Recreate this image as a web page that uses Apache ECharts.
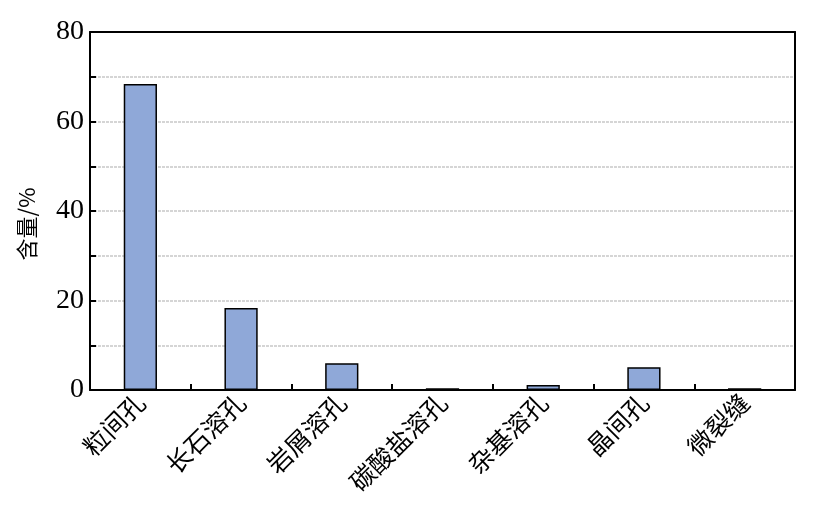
<!DOCTYPE html>
<html>
<head>
<meta charset="utf-8">
<script src="https://cdn.jsdelivr.net/npm/echarts@6/dist/echarts.min.js"></script>
<style>
  html, body { margin: 0; padding: 0; background: #fff; }
  #chart { width: 827px; height: 529px; }
</style>
</head>
<body>
<div id="chart"></div>
<script>
// 孔隙类型
const categories = ['粒间孔', '长石溶孔', '岩屑溶孔', '碳酸盐溶孔', '杂基溶孔', '晶间孔', '微裂缝']
// 含量 (%)
const values = [68.4, 18.3, 6.0, 0.4, 1.1, 5.1, 0.4]
const yTicks = [0, 20, 40, 60, 80]

const serif = '"Liberation Serif", "DejaVu Serif", "Noto Sans CJK SC", serif'
const cjk = '"Noto Sans CJK SC", serif'

const chart = echarts.init(document.getElementById('chart'))
chart.setOption({
  animation: false,
  grid: { left: 90, right: 32, top: 32, bottom: 139 },
  xAxis: [
    {
      type: 'category',
      data: categories,
      axisLine: { lineStyle: { color: '#000', width: 2 } },
      axisTick: { show: true, inside: true, length: 6, lineStyle: { color: '#000', width: 2 } },
      axisLabel: {
        rotate: 45,
        interval: 0,
        color: '#000',
        fontSize: 25,
        fontFamily: cjk,
        margin: 8
      }
    },
    {
      // top frame line
      type: 'category',
      position: 'top',
      data: categories,
      z: 5,
      axisLine: { show: true, onZero: false, lineStyle: { color: '#000', width: 2 } },
      axisTick: { show: false },
      axisLabel: { show: false }
    }
  ],
  yAxis: [
    {
      type: 'value',
      min: 0,
      max: 80,
      interval: 10,
      name: '含量/%',
      nameLocation: 'middle',
      nameGap: 52,
      nameRotate: 90,
      nameTextStyle: { color: '#000', fontSize: 22, fontFamily: cjk, padding: [0, 26, 0, 0] },
      axisLine: { show: true, lineStyle: { color: '#000', width: 2 } },
      axisTick: { show: true, inside: true, length: 6, lineStyle: { color: '#000', width: 2 } },
      axisLabel: {
        color: '#000',
        fontSize: 28,
        fontFamily: serif,
        margin: 6,
        formatter: v => (yTicks.includes(v) ? String(v) : '')
      },
      splitLine: { show: true, lineStyle: { color: '#c8c8c8', width: 1.5, type: [3, 1] } }
    },
    {
      // right frame line
      type: 'value',
      position: 'right',
      min: 0,
      max: 80,
      z: 5,
      axisLine: { show: true, onZero: false, lineStyle: { color: '#000', width: 2 } },
      axisTick: { show: false },
      axisLabel: { show: false },
      splitLine: { show: false }
    }
  ],
  series: [
    {
      type: 'bar',
      data: values,
      barWidth: '33%',
      itemStyle: { color: '#8fa8d8', borderColor: '#000', borderWidth: 1.5 }
    }
  ]
})
</script>
</body>
</html>
